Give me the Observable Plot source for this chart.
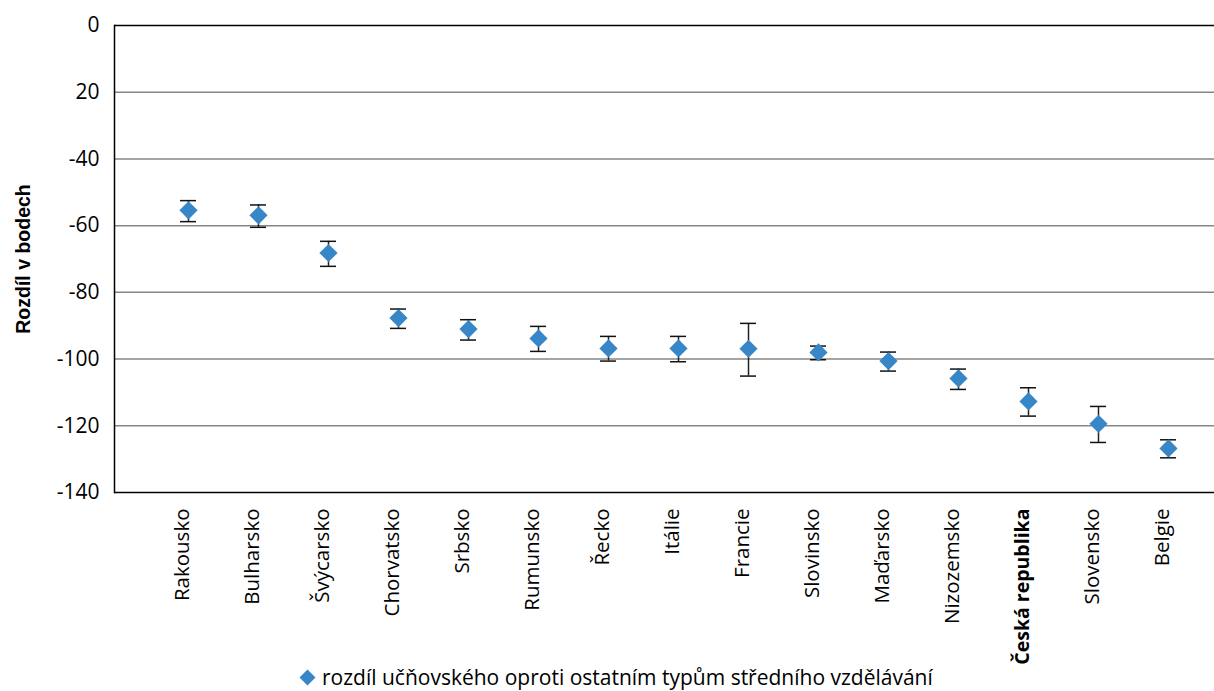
<!DOCTYPE html>
<html>
<head>
<meta charset="utf-8">
<script src="https://cdn.jsdelivr.net/npm/d3@7"></script>
<script src="https://cdn.jsdelivr.net/npm/@observablehq/plot@0.6"></script>
<style>
  body { margin: 0; background: #fff; font-family: "Open Sans", sans-serif; }
  #legend { position: relative; height: 25px; font-size: 21px; color: #000; }
  #legend .item { position: absolute; left: 299px; top: -3px; display: flex; align-items: center; white-space: nowrap; }
  #legend svg { margin-right: 6px; }
</style>
</head>
<body>
<div id="chart"></div>
<div id="legend"></div>
<script>
const countries = ["Rakousko","Bulharsko","Švýcarsko","Chorvatsko","Srbsko","Rumunsko","Řecko","Itálie","Francie","Slovinsko","Maďarsko","Nizozemsko","Česká republika","Slovensko","Belgie"];
const values = [-55.4,-56.9,-68.2,-87.7,-91.0,-93.8,-96.8,-96.8,-96.9,-98.0,-100.6,-105.8,-112.7,-119.4,-126.8];
const upper  = [-52.5,-53.8,-64.7,-85.0,-88.2,-90.2,-93.2,-93.2,-89.3,-96.1,-97.9,-103.0,-108.6,-114.2,-124.2];
const lower  = [-58.8,-60.5,-72.2,-90.8,-94.3,-97.7,-100.6,-100.8,-105.1,-100.2,-103.6,-109.1,-117.1,-125.0,-129.6];
const yTicks = [0,-20,-40,-60,-80,-100,-120,-140];
const yTickLabels = ["0","20","-40","-60","-80","-100","-120","-140"];
const boldCountry = "Česká republika";
const seriesName = "rozdíl učňovského oproti ostatním typům středního vzdělávání";
const yTitle = "Rozdíl v bodech";
const color = "#3787C8";

const data = countries.map((c, i) => ({country: c, value: values[i], hi: upper[i], lo: lower[i]}));

const chart = Plot.plot({
  width: 1214,
  height: 666,
  marginLeft: 114,
  marginRight: 0,
  marginTop: 25,
  marginBottom: 174,
  style: {fontFamily: "Open Sans, sans-serif", fontSize: "20px", color: "#000", background: "#fff"},
  x: {type: "band", domain: countries, range: [148.7, 1208.3], padding: 0, axis: null},
  y: {domain: [-140, 0], axis: null},
  marks: [
    Plot.ruleY(yTicks.filter(d => d !== 0 && d !== -140), {stroke: "#868686", strokeWidth: 1.5}),
    Plot.ruleY([0, -140], {stroke: "#000", strokeWidth: 1.5}),
    Plot.frame({anchor: "left", stroke: "#000", strokeWidth: 1.5}),
    Plot.axisY(yTicks, {tickSize: 0, tickPadding: 15, tickFormat: d => yTickLabels[yTicks.indexOf(d)], fontSize: 21}),
    Plot.text([yTitle], {frameAnchor: "left", rotate: -90, textAnchor: "middle", dx: -91, fontWeight: "bold", fontSize: 19.5, fontFamily: "Liberation Sans, Arial, sans-serif"}),
    Plot.ruleX(data, {x: "country", y1: "lo", y2: "hi", stroke: "#222", strokeWidth: 1.5}),
    Plot.tickY(data, {x: "country", y: "lo", stroke: "#111", strokeWidth: 1.5, insetLeft: 27, insetRight: 27}),
    Plot.tickY(data, {x: "country", y: "hi", stroke: "#111", strokeWidth: 1.5, insetLeft: 27, insetRight: 27}),
    Plot.dot(data, {x: "country", y: "value", symbol: "diamond2", r: 8.2, fill: color, stroke: null}),
    Plot.text(data.filter(d => d.country !== boldCountry), {x: "country", frameAnchor: "bottom", text: "country", rotate: -90, textAnchor: "end", dy: 16, fontSize: 20.5}),
    Plot.text(data.filter(d => d.country === boldCountry), {x: "country", frameAnchor: "bottom", text: "country", rotate: -90, textAnchor: "end", dy: 16, fontSize: 19.5, fontWeight: "bold"})
  ]
});
document.getElementById("chart").appendChild(chart);

const legend = document.getElementById("legend");
legend.innerHTML = `<div class="item"><svg width="17" height="17" viewBox="-8.5 -8.5 17 17"><path d="M0,-8L8,0L0,8L-8,0Z" fill="${color}"/></svg><span></span></div>`;
legend.querySelector("span").textContent = seriesName;
</script>
</body>
</html>
